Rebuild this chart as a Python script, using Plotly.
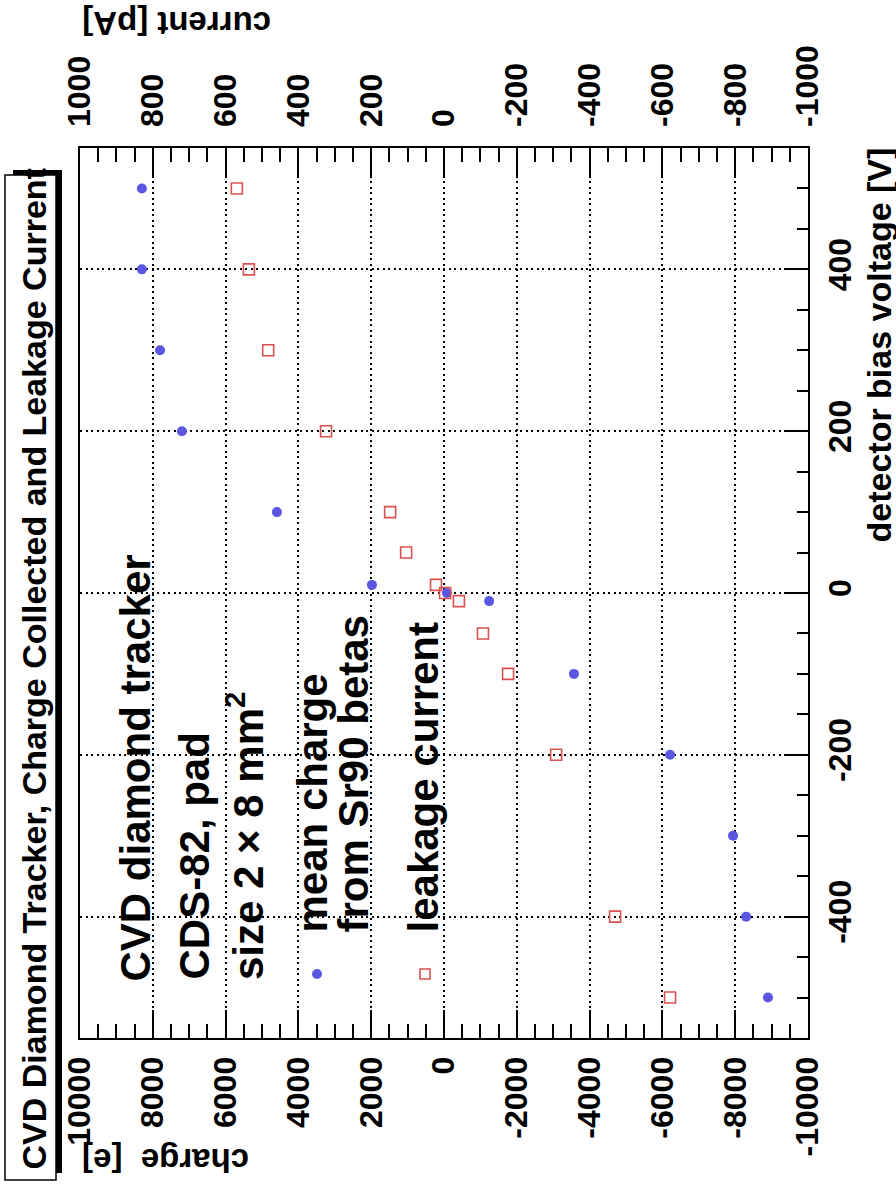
import plotly.graph_objects as go

# bias voltage [V] and mean collected charge [e] from Sr90 betas
charge_voltage = [500, 400, 300, 200, 100, 10, 0, -10, -100, -200, -300, -400, -500]
charge_values = [8300, 8300, 7800, 7200, 4590, 1980, -80, -1240, -3570, -6210, -7940, -8300, -8900]

# bias voltage [V] and leakage current [pA]
current_voltage = [500, 400, 300, 200, 100, 50, 10, 0, -10, -50, -100, -200, -400, -500]
current_values = [569, 536, 483, 324, 148, 104, 22, -3, -41, -107, -176, -308, -470, -621]

charge_ticks = list(range(10000, -10001, -2000))
current_ticks = list(range(1000, -1001, -200))
voltage_ticks = [-400, -200, 0, 200, 400]

BLUE = "#5a56e0"
RED = "#dc5050"
FONT = "Liberation Sans, Arial, sans-serif"

W, H = 896, 1194
L, R, T, B = 80, 808, 148, 1038


def px(xp):
    return (xp - L) / (R - L)


def py(yp):
    return (B - yp) / (B - T)


fig = go.Figure()

fig.add_trace(go.Scatter(
    x=charge_values, y=charge_voltage, mode="markers", name="mean charge",
    marker=dict(symbol="circle", size=10, color=BLUE, line=dict(width=0)),
    xaxis="x", yaxis="y", showlegend=False,
))
fig.add_trace(go.Scatter(
    x=current_values, y=current_voltage, mode="markers", name="leakage current",
    marker=dict(symbol="square-open", size=11, color=RED, line=dict(width=1.6, color=RED)),
    xaxis="x2", yaxis="y", showlegend=False,
))

tickfont = dict(family=FONT, size=32, color="black", weight="bold")
grid = dict(showgrid=True, gridcolor="black", gridwidth=1.5, griddash="2px,3.5px")

fig.update_layout(
    width=W, height=H,
    margin=dict(l=L, r=W - R, t=T, b=H - B),
    paper_bgcolor="white", plot_bgcolor="white",
    xaxis=dict(
        range=[10000, -10000], tick0=0, dtick=2000,
        tickvals=charge_ticks, ticktext=[str(v) for v in charge_ticks],
        ticks="inside", ticklen=28, tickwidth=1.5, tickcolor="black",
        minor=dict(dtick=500, tick0=0, ticks="inside", ticklen=14, tickwidth=1.5,
                   tickcolor="black", showgrid=False),
        tickangle=-90, tickfont=tickfont, ticklabelstandoff=4,
        showline=True, linecolor="black", linewidth=2, mirror=True,
        zeroline=False, **grid,
    ),
    xaxis2=dict(
        range=[1000, -1000], tick0=0, dtick=200,
        tickvals=current_ticks, ticktext=[str(v) for v in current_ticks],
        overlaying="x", side="top", anchor="y",
        ticks="inside", ticklen=28, tickwidth=1.5, tickcolor="black",
        minor=dict(dtick=50, tick0=0, ticks="inside", ticklen=14, tickwidth=1.5,
                   tickcolor="black", showgrid=False),
        tickangle=-90, tickfont=tickfont, ticklabelstandoff=20,
        showline=False, showgrid=False, zeroline=False,
    ),
    yaxis=dict(
        range=[-550, 550], tick0=0, dtick=200,
        tickvals=voltage_ticks, ticktext=[str(v) for v in voltage_ticks], side="right",
        ticks="inside", ticklen=22, tickwidth=1.5, tickcolor="black",
        minor=dict(dtick=50, tick0=0, ticks="inside", ticklen=11, tickwidth=1.5,
                   tickcolor="black", showgrid=False),
        tickangle=-90, tickfont=tickfont, ticklabelstandoff=3,
        showline=True, linecolor="black", linewidth=2, mirror=True,
        zeroline=False, **grid,
    ),
)

# title box with drop shadow
fig.add_shape(type="rect", xref="paper", yref="paper",
              x0=px(13), x1=px(62), y0=py(170), y1=py(1173),
              fillcolor="black", line=dict(width=0), layer="above")
fig.add_shape(type="rect", xref="paper", yref="paper",
              x0=px(5), x1=px(56), y0=py(175), y1=py(1180),
              fillcolor="white", line=dict(width=1.5, color="black"), layer="above")

annotations = []


def text(s, x, y, angle, size, xanchor="center", yanchor="middle"):
    annotations.append(dict(
        text=s, xref="paper", yref="paper", x=px(x), y=py(y),
        xanchor=xanchor, yanchor=yanchor, textangle=angle, showarrow=False,
        align="left", font=dict(family=FONT, size=size, color="black", weight="bold"),
    ))


text("CVD Diamond Tracker, Charge Collected and Leakage Current", 33, 1172, -90, 34,
     yanchor="bottom")

# axis titles
text("current [pA]", 80, 23, 180, 33, xanchor="left")
text("charge  [e]", 80, 1161, 180, 33, xanchor="left")
text("detector bias voltage [V]", 879, 146, -90, 34, yanchor="top")

# detector description
text("CVD diamond tracker", 135, 984, -90, 42, yanchor="bottom")
text("CDS-82, pad", 194, 982, -90, 42, yanchor="bottom")
text("size 2 \u00d7 8 mm<sup>2</sup>", 245, 982, -90, 42, yanchor="bottom")

# legend
text("mean charge", 312, 935, -90, 42, yanchor="bottom")
text("from Sr90 betas", 353, 935, -90, 42, yanchor="bottom")
text("leakage current", 423, 935, -90, 42, yanchor="bottom")

fig.update_layout(annotations=annotations)

fig.add_shape(type="circle", xref="paper", yref="paper",
              x0=px(312), x1=px(322), y0=py(979), y1=py(969),
              fillcolor=BLUE, line=dict(width=0))
fig.add_shape(type="rect", xref="paper", yref="paper",
              x0=px(420), x1=px(430), y0=py(979), y1=py(969),
              fillcolor="rgba(0,0,0,0)", line=dict(width=1.6, color=RED))

fig.write_html("out.html")
